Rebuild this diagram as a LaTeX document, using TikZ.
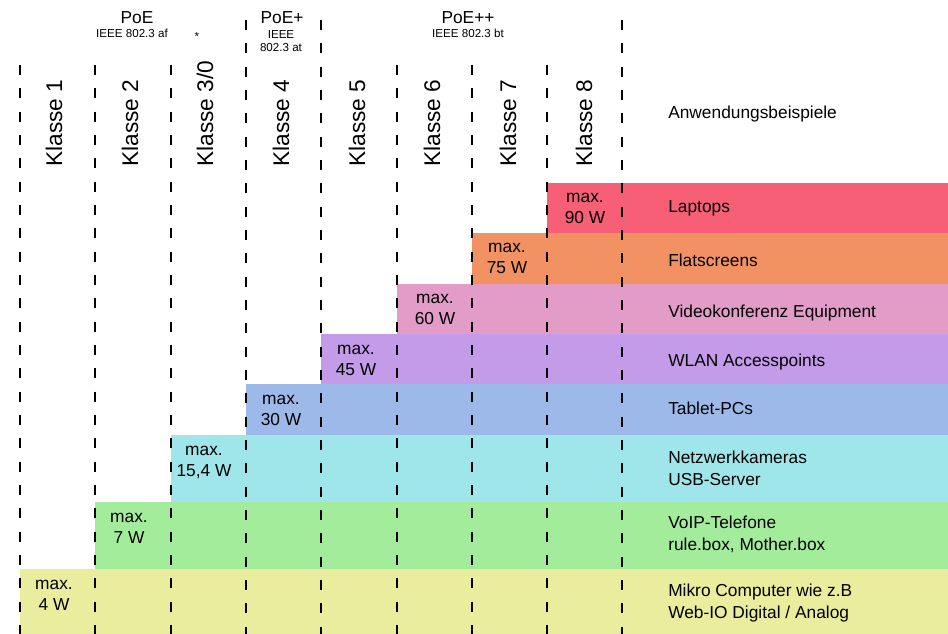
\documentclass[tikz,border=0pt]{standalone}
\usepackage{fontspec}
\setmainfont{Liberation Sans}
\usetikzlibrary{positioning}
\definecolor{cK1}{HTML}{E9ED9D}
\definecolor{cK2}{HTML}{A3EC9C}
\definecolor{cK3}{HTML}{9EE6E9}
\definecolor{cK4}{HTML}{9DB9E9}
\definecolor{cK5}{HTML}{C49BE9}
\definecolor{cK6}{HTML}{E39BC8}
\definecolor{cK7}{HTML}{F29262}
\definecolor{cK8}{HTML}{F65F75}
\tikzset{
  classline/.style={line width=1.2pt, dash pattern=on 7.5pt off 10pt},
  classname/.style={rotate=90, anchor=west, inner sep=0pt, font=\fontsize{17}{20}\selectfont},
  wattbox/.style={anchor=base, align=center, inner sep=0pt, font=\fontsize{13}{15.75}\selectfont},
  usecase/.style={anchor=base west, align=left, inner sep=0pt, font=\fontsize{13}{16.25}\selectfont},
  stdname/.style={anchor=base, inner sep=0pt, font=\fontsize{13}{15}\selectfont},
  stdsub/.style={anchor=base, align=center, inner sep=0pt, font=\fontsize{8.7}{10}\selectfont}
}

\begin{document}
\begin{tikzpicture}[x=0.75pt, y=-0.75pt]
  \useasboundingbox (0,0) rectangle (948,634);
  \foreach \k/\x/\t/\b in {1/20/569/634, 2/95/502/569, 3/171/435/502, 4/246/384/435, 5/321/334/384, 6/397/284/334, 7/472/233/284, 8/547/183/233}
    \fill[cK\k] (\x,\t) rectangle (948,\b);
  \foreach \x/\s in {20/65, 95/65, 171/65, 246/20, 321/20, 397/65, 472/65, 547/65, 622/20}
    \draw[classline] (\x,\s) -- (\x,634);

  \node[stdname] (poe) at (137,24) {PoE};
  \node[stdsub] (af) at (132,38) {IEEE 802.3 af};
  \node[stdsub] (star) at (197,41) {*};
  \node[stdname] (poeplus) at (282,23.5) {PoE+};
  \node[stdsub] (at) at (281,51.5) {IEEE\\802.3 at};
  \node[stdname] (poepp) at (468,24) {PoE++};
  \node[stdsub] (bt) at (468,38) {IEEE 802.3 bt};

  \foreach \x/\t [count=\i] in {54/1, 130/2, 205/{3/0}, 281/4, 357/5, 432/6, 508/7, 584/8}
    \node[classname] (klasse\i) at (\x,167) {Klasse \t};
  \foreach \x/\t/\w [count=\i] in {54/569/4, 129/502/7, 204/435/{15,4}, 281/384/30, 356/334/45, 435/284/60, 507/233/75, 585/183/90}
    \node[wattbox] (watt\i) at (\x,\t+41) {max.\\\w{} W};

  \node[usecase] (use0) at (668,119) {Anwendungsbeispiele};
  \node[usecase] (use8) at (668,213) {Laptops};
  \node[usecase] (use7) at (668,267) {Flatscreens};
  \node[usecase] (use6) at (668,317) {Videokonferenz Equipment};
  \node[usecase] (use5) at (668,366) {WLAN Accesspoints};
  \node[usecase] (use4) at (668,414) {Tablet-PCs};
  \node[usecase] (use3) at (668,485) {Netzwerkkameras\\USB-Server};
  \node[usecase] (use2) at (668,550) {VoIP-Telefone\\rule.box, Mother.box};
  \node[usecase] (use1) at (668,618) {Mikro Computer wie z.B\\Web-IO Digital / Analog};
\end{tikzpicture}
\end{document}
